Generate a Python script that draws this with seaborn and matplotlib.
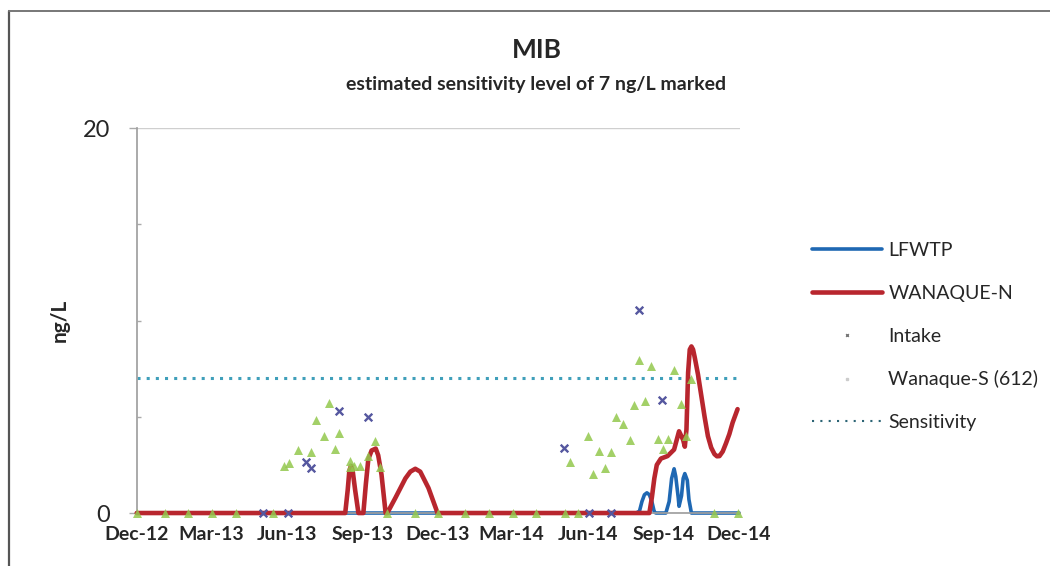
"""Recreate the MIB sensitivity chart (ng/L over time)."""
import matplotlib

matplotlib.use("Agg")
import matplotlib.dates as mdates
import matplotlib.pyplot as plt
import pandas as pd
import seaborn as sns
from matplotlib.lines import Line2D
from matplotlib.ticker import FixedLocator

# LFWTP (blue line)
lfwtp_dates = [
    "2012-12-01", "2014-07-30", "2014-08-03", "2014-08-06", "2014-08-09",
    "2014-08-12", "2014-08-15", "2014-08-18", "2014-08-21", "2014-08-23",
    "2014-09-04", "2014-09-08", "2014-09-11", "2014-09-14", "2014-09-16",
    "2014-09-19", "2014-09-20", "2014-09-23", "2014-09-25", "2014-09-27",
    "2014-09-30", "2014-10-02", "2014-10-05", "2014-12-02",
]
lfwtp_values = [
    0, 0, 0.1, 0.6, 0.95,
    1.05, 0.95, 0.6, 0.05, 0,
    0, 0.6, 1.8, 2.3, 1.9,
    0.8, 0.35, 0.9, 1.8, 2.05,
    1.7, 0.7, 0, 0,
]

# WANAQUE-N (red line)
wanaque_n_dates = [
    "2012-12-01", "2013-08-11", "2013-08-14", "2013-08-16", "2013-08-18",
    "2013-08-20", "2013-08-23", "2013-08-27", "2013-09-02", "2013-09-05",
    "2013-09-08", "2013-09-12", "2013-09-17", "2013-09-20", "2013-09-24",
    "2013-09-27", "2013-09-29", "2013-10-01", "2013-10-11", "2013-10-23",
    "2013-10-29", "2013-11-04", "2013-11-10", "2013-11-20", "2013-12-01",
    "2014-08-15", "2014-08-18", "2014-08-21", "2014-08-24", "2014-08-29",
    "2014-09-06", "2014-09-14", "2014-09-20", "2014-09-25", "2014-09-27",
    "2014-09-29", "2014-10-01", "2014-10-03", "2014-10-05", "2014-10-07",
    "2014-10-09", "2014-10-13", "2014-10-17", "2014-10-21", "2014-10-25",
    "2014-10-29", "2014-11-02", "2014-11-05", "2014-11-08", "2014-11-12",
    "2014-11-16", "2014-11-20", "2014-11-24", "2014-11-30",
]
wanaque_n_values = [
    0, 0, 1.2, 2.2, 2.45,
    2.2, 1.2, 0, 0, 1.5,
    2.8, 3.25, 3.35, 3.0, 2.0,
    0.8, 0, 0, 0.8, 1.8,
    2.15, 2.3, 2.15, 1.3, 0,
    0, 0.8, 1.8, 2.5, 2.83,
    2.96, 3.3, 4.25, 3.8, 3.45,
    4.35, 7.3, 8.5, 8.66, 8.5,
    8.1, 7.2, 6.1, 5.0, 4.0,
    3.4, 3.06, 2.95, 2.96, 3.2,
    3.63, 4.1, 4.7, 5.4,
]

# Intake (x markers)
intake_dates = [
    "2013-05-03", "2013-06-02", "2013-06-25", "2013-07-01", "2013-08-04",
    "2013-09-08", "2014-05-04", "2014-06-03", "2014-06-30", "2014-08-03",
    "2014-08-30",
]
intake_values = [0, 0, 2.65, 2.34, 5.3, 4.99, 3.37, 0, 0, 10.57, 5.85]

# Wanaque-S (612) (triangle markers)
wanaque_s_dates = [
    "2012-12-01", "2013-01-04", "2013-02-01", "2013-03-02", "2013-03-31",
    "2013-05-15", "2013-05-29", "2013-06-04", "2013-06-15", "2013-07-01",
    "2013-07-07", "2013-07-16", "2013-07-22", "2013-07-29", "2013-08-04",
    "2013-08-17", "2013-08-17", "2013-08-22", "2013-08-29", "2013-09-08",
    "2013-09-16", "2013-09-22", "2013-10-01", "2013-11-04", "2013-12-01",
    "2014-01-03", "2014-02-01", "2014-03-02", "2014-03-30", "2014-05-05",
    "2014-05-11", "2014-05-21", "2014-06-01", "2014-06-07", "2014-06-15",
    "2014-06-22", "2014-06-30", "2014-07-05", "2014-07-14", "2014-07-22",
    "2014-07-27", "2014-08-03", "2014-08-10", "2014-08-17", "2014-08-25",
    "2014-08-31", "2014-09-07", "2014-09-14", "2014-09-22", "2014-09-29",
    "2014-10-05", "2014-11-02", "2014-11-30",
]
wanaque_s_values = [
    0, 0, 0, 0, 0,
    0, 2.44, 2.6, 3.27, 3.17,
    4.83, 4.0, 5.71, 3.32, 4.16,
    2.72, 2.38, 2.44, 2.44, 2.96,
    3.74, 2.39, 0, 0, 0,
    0, 0, 0, 0, 0,
    2.67, 0, 4.03, 2.03, 3.24,
    2.33, 3.16, 4.98, 4.64, 3.82,
    5.63, 7.93, 5.8, 7.64, 3.85,
    3.33, 3.85, 7.41, 5.68, 4.03,
    6.98, 0, 0,
]

sensitivity_level = 7
y_ticks = [0, 20]
y_minor_ticks = [5, 10, 15]
x_range = ["2012-12-01", "2014-12-03"]

BLUE = "#1f68b3"
RED = "#b8262e"
GREEN = "#93c84e"
PURPLE = "#55579f"
TEAL = "#3f9fba"


def make_frame(dates, values):
    """Build a small date/value frame."""
    return pd.DataFrame({"date": pd.to_datetime(dates), "value": values})


def main() -> None:
    sns.set_theme(style="white")
    plt.rcParams["font.family"] = ["Lato", "DejaVu Sans"]

    fig = plt.figure(figsize=(10.5, 5.66), dpi=100)
    ax = fig.add_axes([0.1302, 0.0936, 0.5746, 0.6797])

    lfwtp = make_frame(lfwtp_dates, lfwtp_values)
    wan_n = make_frame(wanaque_n_dates, wanaque_n_values)
    intake = make_frame(intake_dates, intake_values)
    wan_s = make_frame(wanaque_s_dates, wanaque_s_values)

    ax.axhline(sensitivity_level, color=TEAL, linewidth=2.2,
               linestyle=(0, (1, 2)), zorder=1)

    sns.lineplot(data=lfwtp, x="date", y="value", ax=ax, color=BLUE,
                 linewidth=2.6, estimator=None, sort=False, zorder=2,
                 clip_on=False)
    sns.lineplot(data=wan_n, x="date", y="value", ax=ax, color=RED,
                 linewidth=3.3, estimator=None, sort=False, zorder=3,
                 clip_on=False)
    sns.scatterplot(data=intake, x="date", y="value", ax=ax, marker="x",
                    color=PURPLE, s=30, linewidth=1.7, zorder=4,
                    clip_on=False)
    sns.scatterplot(data=wan_s, x="date", y="value", ax=ax, marker="^",
                    color=GREEN, s=42, linewidth=0, alpha=0.85, zorder=5,
                    clip_on=False)

    # Axes
    ax.set_xlim(pd.to_datetime(x_range[0]), pd.to_datetime(x_range[1]))
    ax.set_ylim(0, 20)
    ax.yaxis.set_major_locator(FixedLocator(y_ticks))
    ax.yaxis.set_minor_locator(FixedLocator(y_minor_ticks))
    ax.xaxis.set_major_locator(mdates.MonthLocator(bymonth=[3, 6, 9, 12]))
    ax.xaxis.set_major_formatter(mdates.DateFormatter("%b-%y"))
    ax.tick_params(axis="y", which="major", length=6, width=1,
                   color="#aaaaaa", pad=13, labelsize=17, left=True)
    ax.tick_params(axis="y", which="minor", length=3, width=1,
                   color="#aaaaaa", direction="in", left=True)
    ax.tick_params(axis="x", length=0, pad=9, labelsize=14)
    for lab in ax.get_xticklabels():
        lab.set_fontweight("bold")
    ax.set_xlabel("")
    ax.set_ylabel("ng/L", fontsize=15, fontweight="bold")
    ax.yaxis.set_label_coords(-0.111, 0.5)
    ax.grid(axis="y", which="major", color="#cfcfcf", linewidth=1)
    ax.grid(axis="x", visible=False)
    for side in ["top", "right"]:
        ax.spines[side].set_visible(False)
    ax.spines["left"].set_color("#a0a0a0")
    ax.spines["bottom"].set_color("#a0a0a0")

    # Titles
    fig.text(0.511, 0.912, "MIB", ha="center", va="center",
             fontsize=19, fontweight="bold")
    fig.text(0.511, 0.850, "estimated sensitivity level of 7 ng/L marked",
             ha="center", va="center", fontsize=14, fontweight="bold")

    # Legend
    handles = [
        Line2D([], [], color=BLUE, linewidth=2.6),
        Line2D([], [], color=RED, linewidth=3.3),
        Line2D([], [], color="#777777", marker="x", markersize=2,
               linestyle="none"),
        Line2D([], [], color="#cccccc", marker="s", markersize=2,
               linestyle="none"),
        Line2D([], [], color="#2c6475", linewidth=1.5, linestyle=(0, (1, 3))),
    ]
    labels = ["LFWTP", "WANAQUE-N", "Intake", "Wanaque-S (612)", "Sensitivity"]
    ax.legend(handles, labels, loc="upper left",
              bbox_to_anchor=(0.773, 0.572), bbox_transform=fig.transFigure,
              frameon=False, fontsize=14, handlelength=3.6,
              handletextpad=0.35, labelspacing=1.32, borderpad=0,
              borderaxespad=0)

    # Chart border (left and top edges of the scanned frame)
    fig.add_artist(Line2D([0.0086, 0.0086], [0.0, 0.981],
                          transform=fig.transFigure, color="#555555",
                          linewidth=1.6))
    fig.add_artist(Line2D([0.0086, 1.0], [0.981, 0.981],
                          transform=fig.transFigure, color="#777777",
                          linewidth=1.4))

    fig.savefig("out.png", dpi=100, facecolor="white")
    plt.close(fig)


if __name__ == "__main__":
    main()
